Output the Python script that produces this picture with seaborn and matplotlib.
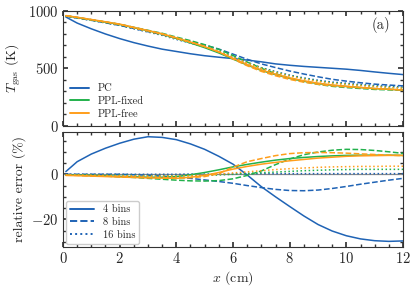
import numpy as np
import pandas as pd
import matplotlib
matplotlib.use("Agg")
import matplotlib.pyplot as plt
import seaborn as sns
from matplotlib.ticker import MultipleLocator
from matplotlib.lines import Line2D

# ---------------- data ----------------
x_cm = [0.1, 0.5, 1.0, 1.5, 2.0, 2.5, 3.0, 3.5, 4.0, 4.5, 5.0, 5.5, 6.0,
        6.5, 7.0, 7.5, 8.0, 8.5, 9.0, 9.5, 10.0, 10.5, 11.0, 11.5, 12.0]

# gas temperature (K)
T_pc_4 = [948, 895, 845, 800, 760, 725, 695, 668, 648, 628, 611, 598, 586,
          573, 558, 540, 528, 518, 510, 502, 494, 483, 470, 458, 447]
T_pc_8 = [955, 939, 919, 897, 875, 848, 820, 795, 762, 734, 704, 669, 625,
          580, 540, 508, 478, 452, 428, 406, 390, 376, 364, 356, 349]
T_pc_16 = [955, 939, 919, 897, 875, 846, 817, 788, 753, 721, 686, 647, 600,
           552, 507, 473, 442, 418, 398, 382, 372, 361, 352, 345, 338]
T_fix_4 = [958, 943, 923, 903, 883, 855, 828, 799, 761, 722, 681, 635, 582,
           530, 483, 446, 414, 389, 369, 354, 344, 334, 325, 319, 313]
T_fix_8 = [958, 943, 924, 904, 885, 858, 832, 806, 773, 742, 707, 666, 613,
           556, 502, 455, 415, 385, 362, 345, 334, 326, 318, 314, 310]
T_fix_16 = [957, 941, 921, 900, 879, 850, 822, 793, 758, 725, 690, 650, 602,
            552, 506, 469, 438, 413, 392, 376, 365, 355, 346, 339, 332]
T_free_4 = [960, 945, 926, 906, 886, 858, 830, 802, 767, 730, 690, 643, 588,
            535, 487, 450, 418, 393, 372, 356, 345, 335, 326, 319, 313]
T_free_8 = [959, 945, 925, 905, 884, 856, 828, 800, 765, 731, 693, 646, 583,
            524, 475, 437, 405, 381, 363, 349, 340, 332, 324, 319, 313]
T_free_16 = [958, 942, 922, 901, 881, 852, 823, 795, 759, 725, 689, 647, 598,
             548, 501, 464, 433, 408, 387, 371, 361, 351, 342, 334, 328]

# relative error (%)
E_pc_4 = [1.2, 5.6, 9.0, 11.6, 13.8, 15.6, 16.7, 16.4, 15.4, 13.5, 11.1, 8.0,
          4.5, -0.3, -5.5, -10.0, -14.3, -18.5, -22.3, -25.2, -27.3, -28.7,
          -29.5, -29.8, -29.6]
E_pc_8 = [0.0, 0.0, 0.0, 0.0, 0.0, -0.2, -0.4, -0.8, -1.2, -1.8, -2.5, -3.2,
          -4.0, -5.0, -5.9, -6.7, -7.2, -7.3, -7.0, -6.3, -5.4, -4.4, -3.5,
          -2.6, -1.8]
E_pc_16 = [0.0, 0.0, 0.0, 0.0, 0.0, 0.0, 0.0, 0.0, 0.0, 0.1, 0.1, 0.2, 0.2,
           0.3, 0.3, 0.3, 0.3, 0.3, 0.3, 0.3, 0.3, 0.3, 0.3, 0.3, 0.3]
E_fix_4 = [-0.3, -0.4, -0.5, -0.7, -0.9, -1.1, -1.3, -1.3, -1.0, -0.2, 0.8,
           2.0, 3.3, 4.4, 5.4, 6.3, 7.0, 7.5, 7.9, 8.2, 8.4, 8.5, 8.5, 8.5, 8.4]
E_fix_8 = [-0.3, -0.4, -0.6, -0.8, -1.1, -1.4, -1.8, -2.2, -2.6, -2.9, -3.0,
           -2.8, -2.0, -0.5, 1.5, 4.3, 6.8, 8.7, 9.9, 10.7, 11.1, 11.0, 10.6,
           10.0, 9.3]
E_fix_16 = [-0.2, -0.2, -0.3, -0.3, -0.4, -0.5, -0.6, -0.6, -0.6, -0.6, -0.5,
            -0.3, 0.0, 0.4, 0.7, 1.0, 1.3, 1.6, 1.8, 2.0, 2.1, 2.2, 2.2, 2.2, 2.2]
E_free_4 = [-0.5, -0.6, -0.8, -1.0, -1.2, -1.4, -1.6, -1.7, -1.8, -1.3, -0.5,
            0.8, 2.3, 3.5, 4.5, 5.3, 6.0, 6.6, 7.2, 7.6, 8.0, 8.2, 8.3, 8.4, 8.4]
E_free_8 = [-0.4, -0.5, -0.7, -0.8, -1.0, -1.2, -1.4, -1.5, -1.6, -1.5, -1.0,
            0.3, 3.2, 5.6, 7.0, 8.3, 9.2, 9.6, 9.7, 9.6, 9.4, 9.1, 8.8, 8.5, 8.3]
E_free_16 = [-0.3, -0.3, -0.4, -0.5, -0.6, -0.7, -0.8, -0.8, -0.8, -0.6, -0.3,
             0.1, 0.6, 1.1, 1.6, 2.1, 2.5, 2.8, 3.1, 3.3, 3.4, 3.5, 3.5, 3.6, 3.6]

models = ["PC", "PPL-fixed", "PPL-free"]
bins_labels = ["4 bins", "8 bins", "16 bins"]
T_data = {"PC": [T_pc_4, T_pc_8, T_pc_16],
          "PPL-fixed": [T_fix_4, T_fix_8, T_fix_16],
          "PPL-free": [T_free_4, T_free_8, T_free_16]}
E_data = {"PC": [E_pc_4, E_pc_8, E_pc_16],
          "PPL-fixed": [E_fix_4, E_fix_8, E_fix_16],
          "PPL-free": [E_free_4, E_free_8, E_free_16]}

colors = {"PC": "#1f63b5", "PPL-fixed": "#22b14c", "PPL-free": "#ff9e1b"}
styles = ["-", "--", ":"]

# ---------------- style ----------------
sns.set_theme(style="ticks")
plt.rcParams.update({
    "font.family": ["serif"],
    "font.serif": ["cmr10", "DejaVu Serif"],
    "mathtext.fontset": "cm",
    "axes.formatter.use_mathtext": True,
    "axes.unicode_minus": True,
    "font.size": 10,
    "axes.labelsize": 10,
    "axes.edgecolor": "#333333",
    "axes.linewidth": 0.8,
    "xtick.direction": "in",
    "ytick.direction": "in",
    "xtick.top": True,
    "ytick.right": True,
    "xtick.minor.visible": True,
    "ytick.minor.visible": True,
    "xtick.major.size": 3.5,
    "ytick.major.size": 3.5,
    "xtick.minor.size": 2.0,
    "ytick.minor.size": 2.0,
    "xtick.labelsize": 10.5,
    "ytick.labelsize": 10.5,
})

fig = plt.figure(figsize=(4.16, 2.93), dpi=100)
ax1 = fig.add_axes([0.1514, 0.570, 0.8174, 0.3925])
ax2 = fig.add_axes([0.1514, 0.157, 0.8174, 0.3925])

lw = 1.1
for m in models:
    for k, ls in enumerate(styles):
        sns.lineplot(x=x_cm, y=T_data[m][k], ax=ax1, color=colors[m],
                     linestyle=ls, linewidth=lw, legend=False)

ax2.axhline(0, color="#888888", linewidth=0.9, zorder=1)
for m in models:
    for k, ls in enumerate(styles):
        sns.lineplot(x=x_cm, y=E_data[m][k], ax=ax2, color=colors[m],
                     linestyle=ls, linewidth=lw, legend=False)

for ax in (ax1, ax2):
    ax.set_xlim(0, 12)
    ax.xaxis.set_major_locator(MultipleLocator(2))
    ax.xaxis.set_minor_locator(MultipleLocator(0.5))
    ax.tick_params(which="both", color="#333333", pad=3)

ax1.set_ylim(0, 1000)
ax1.yaxis.set_major_locator(MultipleLocator(500))
ax1.yaxis.set_minor_locator(MultipleLocator(100))
ax1.set_xticklabels([])
ax1.set_xlabel("")
ax1.set_ylabel(r"$T_{\mathrm{gas}}$ (K)")
ax1.text(0.962, 0.88, "(a)", transform=ax1.transAxes, ha="right", va="center",
         fontsize=10.5)

ax2.set_ylim(-32.3, 18.8)
ax2.yaxis.set_major_locator(MultipleLocator(20))
ax2.yaxis.set_minor_locator(MultipleLocator(5))
ax2.set_xlabel(r"$x$ (cm)", labelpad=2)
ax2.set_ylabel("relative error (%)")

h1 = [Line2D([], [], color=colors[m], lw=1.4, ls="-") for m in models]
ax1.legend(h1, models, loc="lower left", frameon=False, fontsize=7.5,
           handlelength=1.8, labelspacing=0.3, borderaxespad=0.3,
           handletextpad=0.8)
h2 = [Line2D([], [], color=colors["PC"], lw=1.4, ls=s) for s in styles]
ax2.legend(h2, bins_labels, loc="lower left", frameon=True,
           fontsize=7.5, handlelength=2.3, labelspacing=0.3,
           borderaxespad=0.3, fancybox=True, framealpha=1.0,
           edgecolor="#cccccc", handletextpad=0.8)

fig.align_ylabels([ax1, ax2])
fig.savefig("out.png", dpi=100)
